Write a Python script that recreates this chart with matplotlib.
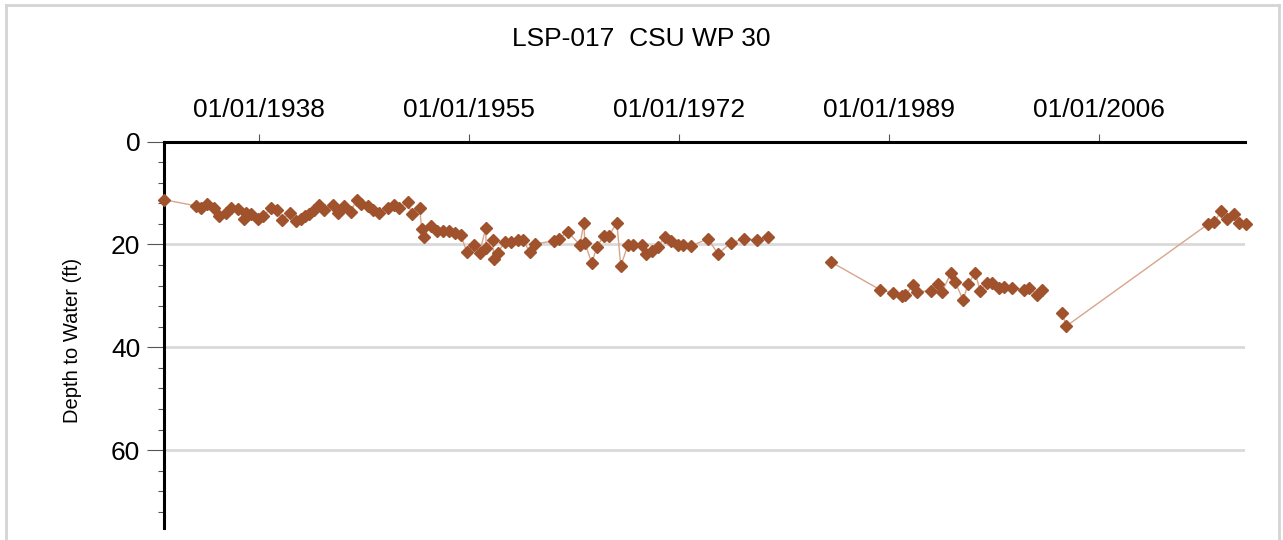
from datetime import datetime, timedelta

import numpy as np
import matplotlib
matplotlib.use("Agg")
import matplotlib.pyplot as plt
import matplotlib.dates as mdates
from matplotlib.lines import Line2D
from matplotlib.ticker import MultipleLocator, FixedLocator

plt.rcParams['font.family'] = ['Liberation Sans', 'DejaVu Sans']

# depth to water readings, decimal years; the record has two gaps, so three runs
seg1_years = [1930.39, 1932.98, 1933.38, 1933.87, 1934.36, 1934.84, 1935.33, 1935.81,
              1936.38, 1936.79, 1936.95, 1937.43, 1937.92, 1938.40, 1939.05, 1939.46,
              1939.94, 1940.51, 1941.00, 1941.40, 1941.72, 1942.05, 1942.45, 1942.86,
              1943.26, 1943.99, 1944.40, 1944.88, 1945.45, 1945.94, 1946.26, 1946.83,
              1947.23, 1947.72, 1948.45, 1948.93, 1949.34, 1950.06, 1950.39, 1951.04,
              1951.20, 1951.36, 1951.93, 1952.41, 1952.90, 1953.38, 1953.87, 1954.36,
              1954.84, 1955.41, 1955.89, 1956.38, 1956.42, 1956.95, 1957.03, 1957.35,
              1957.92, 1958.40, 1958.97, 1959.38, 1959.94, 1960.35, 1961.89, 1962.29,
              1963.02, 1964.00, 1964.32, 1964.40, 1964.96, 1965.37, 1965.94, 1966.34,
              1966.99, 1967.31, 1967.88, 1968.28, 1969.01, 1969.34, 1969.82, 1970.31,
              1970.87, 1971.36, 1971.93, 1972.33, 1972.98, 1974.36, 1975.17, 1976.22,
              1977.27, 1978.32, 1979.21]
seg1_depth = [11.3, 12.5, 12.9, 12.1, 12.9, 14.4, 13.8, 12.9,
              13.1, 15.0, 13.8, 14.0, 15.0, 14.4, 12.9, 13.3,
              15.2, 13.8, 15.4, 15.0, 14.4, 14.0, 13.3, 12.3,
              13.3, 12.3, 13.8, 12.5, 13.6, 11.3, 12.1, 12.5,
              13.3, 13.8, 12.9, 12.3, 12.9, 11.7, 14.0, 12.9,
              17.0, 18.5, 16.4, 17.3, 17.3, 17.3, 17.7, 18.1,
              21.4, 20.1, 21.6, 16.8, 20.7, 19.1, 22.8, 21.6,
              19.5, 19.5, 19.1, 19.1, 21.4, 19.9, 19.3, 18.9,
              17.5, 20.1, 15.8, 19.7, 23.6, 20.5, 18.3, 18.3,
              15.8, 24.2, 20.1, 20.1, 20.1, 21.8, 21.2, 20.5,
              18.5, 19.3, 20.1, 20.1, 20.3, 18.9, 21.8, 19.7,
              18.9, 19.1, 18.5]

seg2_years = [1984.32, 1988.28, 1989.34, 1990.06, 1990.31, 1990.96, 1991.28, 1992.41,
              1992.98, 1993.30, 1994.03, 1994.36, 1995.00, 1995.41, 1995.98, 1996.38,
              1996.95, 1997.35, 1997.92, 1998.32, 1998.97, 1999.94, 2000.35, 2001.00,
              2001.40]
seg2_depth = [23.4, 28.8, 29.4, 30.0, 29.8, 27.9, 29.2, 29.0,
              27.7, 29.2, 25.5, 27.3, 30.8, 27.7, 25.5, 29.0,
              27.5, 27.5, 28.5, 28.3, 28.5, 28.8, 28.5, 29.8,
              28.8]

seg3_years = [2003.02, 2003.34, 2014.84, 2015.33, 2015.89, 2016.38, 2016.95, 2017.35, 2017.90]
seg3_depth = [33.3, 35.9, 16.0, 15.6, 13.5, 15.0, 14.0, 15.8, 16.0]

tick_years = [1938, 1955, 1972, 1989, 2006]
title = "LSP-017  CSU WP 30"


def to_date(y):
    yr = int(y)
    start = datetime(yr, 1, 1)
    days = (datetime(yr + 1, 1, 1) - start).days
    return start + timedelta(days=(y - yr) * days)


fig = plt.figure(figsize=(12.83, 5.40), dpi=100)
ax = fig.add_axes([0.1278, 0.0228, 0.9704 - 0.1278, 0.7376 - 0.0228])

for yrs, dep in [(seg1_years, seg1_depth), (seg2_years, seg2_depth), (seg3_years, seg3_depth)]:
    d = [to_date(v) for v in yrs]
    ax.plot(d, dep, color='#d8a48c', lw=1, zorder=3)
    ax.plot(d, dep, ls='none', marker='D', ms=5.8, color='#a0522d',
            mec='#a0522d', zorder=4, clip_on=False)

ax.set_xlim(to_date(1930.35), to_date(2017.81))
ax.set_ylim(75.1, 0)

ax.xaxis.tick_top()
ax.xaxis.set_major_locator(FixedLocator(mdates.date2num([datetime(y, 1, 1) for y in tick_years])))
ax.xaxis.set_major_formatter(mdates.DateFormatter('%m/%d/%Y'))
ax.tick_params(axis='x', which='major', direction='out', length=6, width=0.8,
               color='#555555', labelsize=19, pad=8)

ax.yaxis.set_major_locator(MultipleLocator(20))
ax.yaxis.set_minor_locator(MultipleLocator(4))
ax.tick_params(axis='y', which='major', direction='out', length=12, width=0.8,
               color='#555555', labelsize=19, pad=5)
ax.tick_params(axis='y', which='minor', direction='out', length=4, width=0.8, color='#555555')

for y in [20, 40, 60]:
    ax.axhline(y, color='#d9d9d9', lw=2, zorder=1)

ax.spines['right'].set_visible(False)
ax.spines['bottom'].set_visible(False)
ax.spines['left'].set_linewidth(2.2)
ax.spines['top'].set_linewidth(2.2)

ax.set_ylabel("Depth to Water (ft)", fontsize=14.5)
ax.yaxis.set_label_coords(-0.076, 0.484)

fig.text(0.5, 0.928, title, ha='center', va='center', fontsize=19)

# light frame around the whole chart
for xs, ys in [([0.005, 0.005], [0.0, 0.991]), ([0.005, 0.997], [0.991, 0.991]),
               ([0.997, 0.997], [0.0, 0.991])]:
    fig.add_artist(Line2D(xs, ys, color='#d4d4d4', lw=2, transform=fig.transFigure))

fig.savefig("out.png", dpi=100)
